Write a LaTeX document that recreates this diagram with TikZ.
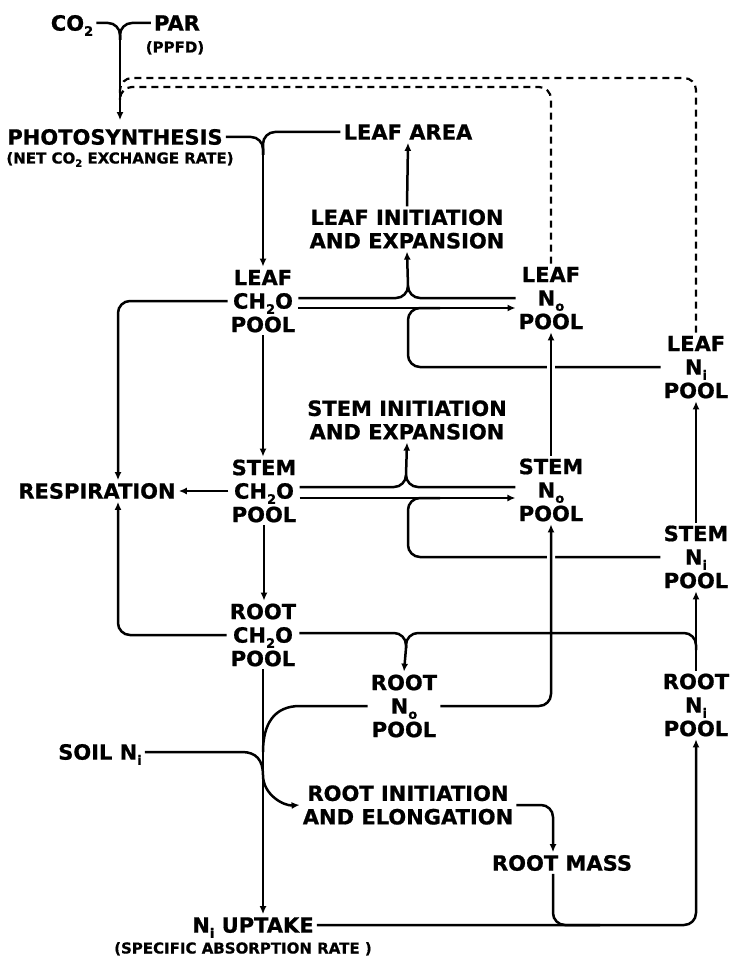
\documentclass[tikz,border=0pt]{standalone}
\usepackage{fontspec}
\setmainfont{DejaVu Sans}[BoldFeatures={FakeBold=0.8}]
\usetikzlibrary{arrows.meta,calc}
\newcommand\mysub[1]{\raisebox{-0.45ex}{\fontsize{13}{13}\selectfont #1}}
\newcommand\mysubs[1]{\raisebox{-0.4ex}{\fontsize{10}{10}\selectfont #1}}
\newcommand\bigf{\fontsize{21}{23.5}\selectfont\bfseries}
\newcommand\smallf{\fontsize{15}{17}\selectfont\bfseries}
\begin{document}
\begin{tikzpicture}[x=1pt,y=-1pt,
  t/.style={font=\bigf, align=center, inner sep=3pt, text height=15.3pt, text depth=0pt},
  t2/.style={t, text height=38.8pt},
  t3/.style={t, text height=62.3pt},
  s/.style={font=\smallf, inner sep=2pt, text height=11pt, text depth=0pt},
  ln/.style={line width=2.5pt},
  arr/.style={ln, -{Latex[length=8pt,width=7pt]}},
  rc/.style={rounded corners=12pt},
  dsh/.style={line width=2.2pt, dash pattern=on 7pt off 5pt, rounded corners=12pt},
  halo/.style={preaction={draw=white,line width=8pt,-,shorten >=14pt,shorten <=14pt}}]
\useasboundingbox (0,0) rectangle (732,965);
% nodes
\node[t] (co2) at (72,23) {CO\mysub{2}};
\node[t] (par) at (177,23) {PAR};
\node[s] (ppfd) at (175,47) {(PPFD)};
\node[t] (photo) at (115,137) {PHOTOSYNTHESIS};
\node[s] (net) at (120,158) {(NET CO\mysubs{2} EXCHANGE RATE)};
\node[t] (larea) at (408,132) {LEAF AREA};
\node[t2] (lie) at (407,229) {LEAF INITIATION\\AND EXPANSION};
\node[t3] (lch) at (263,301) {LEAF\\CH\mysub{2}O\\POOL};
\node[t3] (lno) at (551,298) {LEAF\\N\mysub{o}\\POOL};
\node[t3] (lni) at (696,367) {LEAF\\N\mysub{i}\\POOL};
\node[t2] (sie) at (407,420) {STEM INITIATION\\AND EXPANSION};
\node[t] (resp) at (97,491) {RESPIRATION};
\node[t3] (sch) at (264,491) {STEM\\CH\mysub{2}O\\POOL};
\node[t3] (sno) at (551,490) {STEM\\N\mysub{o}\\POOL};
\node[t3] (sni) at (696,557) {STEM\\N\mysub{i}\\POOL};
\node[t3] (rch) at (263,635) {ROOT\\CH\mysub{2}O\\POOL};
\node[t3] (rno) at (404,706) {ROOT\\N\mysub{o}\\POOL};
\node[t3] (rni) at (696,705) {ROOT\\N\mysub{i}\\POOL};
\node[t] (soil) at (100,752) {SOIL N\mysub{i}};
\node[t2] (rie) at (408,805) {ROOT INITIATION\\AND ELONGATION};
\node[t] (rmass) at (562,863) {ROOT MASS};
\node[t] (upt) at (253,925) {N\mysub{i} UPTAKE};
\node[s] (sar) at (243,948) {(SPECIFIC ABSORPTION RATE )};
% helper coordinates
\coordinate (jn1) at (120,40);
\coordinate (fb) at (120,100);
\coordinate (d1) at (120,78);
\coordinate (d2) at (120,87);
\coordinate (jn2) at (263,155);
\coordinate (jL) at (408,286);
\coordinate (upL) at (0,298);
\coordinate (loL) at (0,308);
\coordinate (lpA) at (408,308);
\coordinate (lpB) at (440,308);
\coordinate (rx) at (118,0);
\coordinate (jS) at (406,475);
\coordinate (upS) at (0,487);
\coordinate (loS) at (0,498);
\coordinate (lpC) at (408,498);
\coordinate (lpD) at (440,498);
\coordinate (hR) at (0,633);
\coordinate (jR) at (406,648);
\coordinate (jRc) at (406,633);
\coordinate (jNi) at (696,650);
\coordinate (mx) at (553,0);
\coordinate (mrg) at (600,925);
% connectors
\draw[ln,rc] (co2.east) -| (jn1);
\draw[ln,rc] (par.west) -| (jn1);
\draw[arr,shorten >=6pt] (jn1) -- (jn1 |- photo.north);
\draw[dsh] (lni.north) |- (d1) -- (fb);
\draw[dsh] (lno.north) |- (d2) -- (fb);
\draw[ln,rc] (photo.east) -| (jn2);
\draw[ln,rc] (larea.west) -| (jn2);
\draw[arr] (jn2) -- (lch.north);
\draw[arr] (lie.north) -- (larea.south);
\draw[arr,rc] (lch.west) -| (rx |- resp.north);
\draw[arr] (lch.south) -- (lch.south |- sch.north);
\draw[ln,rc] (lch.east |- upL) -| (jL);
\draw[ln,rc] (lno.west |- upL) -| (jL);
\draw[arr] (jL) -- (lie.south);
\draw[arr] (lch.east |- loL) -- (lno.west |- loL);
\draw[ln,rc] (lni.west) -| (lpA) -- (lpB);
\draw[arr] (sch.west) -- (resp.east);
\draw[ln,rc] (sch.east |- upS) -| (jS);
\draw[ln,rc] (sno.west |- upS) -| (jS);
\draw[arr] (jS) -- (sie.south);
\draw[arr] (sch.east |- loS) -- (sno.west |- loS);
\draw[ln,rc] (sni.west) -| (lpC) -- (lpD);
\draw[arr] (sch.south) -- (sch.south |- rch.north);
\draw[arr,rc] (rch.west) -| (rx |- resp.south);
\draw[arr,halo] (sno.north) -- (lno.south);
\draw[arr,halo,rc] (rno.east) -| (sno.south);
\draw[arr] (sni.north) -- (lni.south);
\draw[ln,rc] (rch.east |- hR) -| (jR);
\draw[ln,rc] (jNi) |- (jRc) -- (jR);
\draw[arr] (jR) -- (rno.north);
\draw[arr] (rni.north) -- (sni.south);
\draw[ln] (rno.west) -- (300,706) .. controls (274,706) and (263,724) .. (263,752);
\draw[arr] (soil.east) -- (242,752) .. controls (256,752) and (263,760) .. (263,775) .. controls (263,795) and (284,806) .. (rie.west);
\draw[arr] (rch.south) -- (rch.south |- upt.north);
\draw[arr,rc] (rie.east) -| (mx |- rmass.north);
\draw[ln,rc] (mx |- rmass.south) |- (mrg);
\draw[arr,rc] (upt.east) -| (rni.south);
\end{tikzpicture}
\end{document}
